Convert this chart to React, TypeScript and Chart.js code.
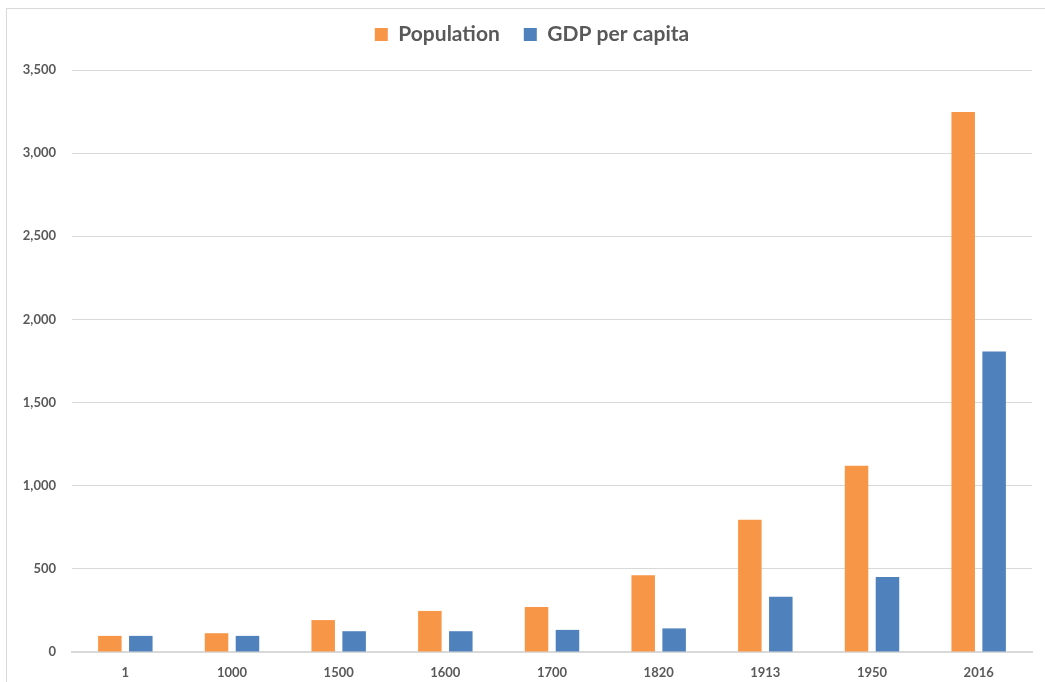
import React, { useEffect, useRef } from "react";
import { Chart, registerables } from "chart.js";

Chart.register(...registerables);

const categories = ["1", "1000", "1500", "1600", "1700", "1820", "1913", "1950", "2016"];
const population = [97, 113, 192, 247, 271, 461, 795, 1120, 3247];
const gdpPerCapita = [97, 97, 125, 125, 133, 142, 332, 451, 1807];
const seriesNames = ["Population", "GDP per capita"];

const FONT = "Lato, 'Open Sans', sans-serif";
const TEXT = "#595959";

const legendMargin = {
  id: "legendMargin",
  beforeInit(chart: any) {
    const legend = chart.legend;
    if (!legend) return;
    const origFit = legend.fit;
    legend.fit = function fit() {
      origFit.call(this);
      this.height += 15;
    };
    const origDraw = legend.draw;
    legend.draw = function draw() {
      const c = this.ctx;
      c.save();
      c.translate(16, 0);
      origDraw.call(this);
      c.restore();
    };
  },
};

export default function App() {
  const ref = useRef<HTMLCanvasElement | null>(null);
  useEffect(() => {
    document.body.style.margin = "0";
    const ctx = ref.current!;
    const chart = new Chart(ctx, {
      type: "bar",
      data: {
        labels: categories,
        datasets: [
          {
            label: seriesNames[0],
            data: population,
            backgroundColor: "#F79646",
            categoryPercentage: 0.58,
            barPercentage: 0.76,
          },
          {
            label: seriesNames[1],
            data: gdpPerCapita,
            backgroundColor: "#4F81BD",
            categoryPercentage: 0.58,
            barPercentage: 0.76,
          },
        ],
      },
      options: {
        animation: false,
        responsive: false,
        maintainAspectRatio: false,
        layout: { padding: { left: 0, right: 13, top: 0, bottom: 0 } },
        plugins: {
          legend: {
            position: "top",
            labels: {
              boxWidth: 13,
              boxHeight: 13,
              padding: 24,
              color: TEXT,
              font: { family: FONT, size: 21, weight: "bold" },
            },
          },
          tooltip: { enabled: false },
        },
        scales: {
          x: {
            grid: { display: false },
            border: { display: true, color: "#d9d9d9", width: 2 },
            ticks: {
              color: TEXT,
              padding: 5,
              font: { family: FONT, size: 13, weight: "bold" },
            },
            afterFit: (s: any) => {
              s.height = 30;
            },
          },
          y: {
            min: 0,
            max: 3500,
            ticks: {
              stepSize: 500,
              color: TEXT,
              padding: 16,
              font: { family: FONT, size: 13, weight: "bold" },
            },
            grid: { color: "#d9d9d9", lineWidth: 1, drawTicks: false },
            border: { display: false },
            afterFit: (s: any) => {
              s.width = 72;
            },
          },
        },
      },
      plugins: [legendMargin],
    });
    return () => chart.destroy();
  }, []);
  return (
    <div
      style={{
        position: "fixed",
        left: 0,
        top: 0,
        width: 1045,
        height: 682,
        overflow: "hidden",
        background: "#fff",
      }}
    >
      <div
        style={{
          position: "absolute",
          left: 6,
          top: 8,
          width: 1200,
          height: 800,
          border: "1px solid #d9d9d9",
        }}
      />
      <canvas ref={ref} width={1045} height={682} style={{ position: "absolute", left: 0, top: 0 }} />
    </div>
  );
}
